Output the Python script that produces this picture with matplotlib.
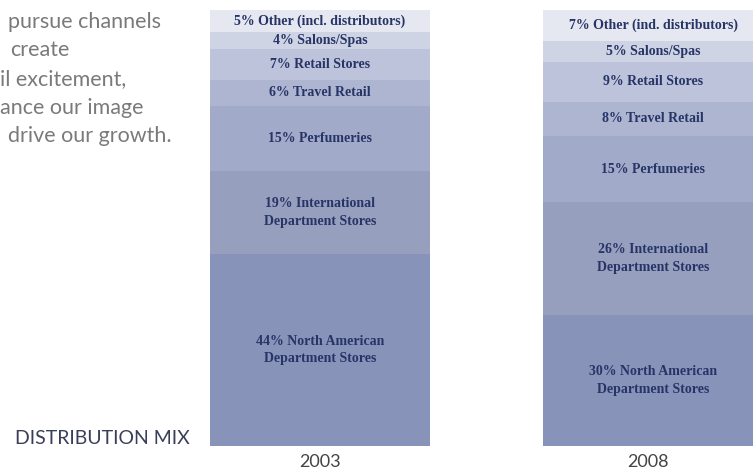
import matplotlib.pyplot as plt

# Distribution mix, stacked from the bottom up
years = ['2003', '2008']
channels = ['North American\nDepartment Stores', 'International\nDepartment Stores',
            'Perfumeries', 'Travel Retail', 'Retail Stores', 'Salons/Spas',
            'Other (incl. distributors)']
share_2003 = [44, 19, 15, 6, 7, 4, 5]
share_2008 = [30, 26, 15, 8, 9, 5, 7]
colors = ['#8893b9', '#979fbf', '#a2aaca', '#adb5d1', '#bcc3db', '#cfd4e4', '#e5e8f0']

intro_lines = ['pursue channels', 'create', 'il excitement,', 'ance our image', 'drive our growth.']
intro_x = [8, 10, 0, 0, 8]

fig = plt.figure(figsize=(7.53, 4.76), dpi=100)
ax = fig.add_axes([210 / 753, 30 / 476, 543 / 753, 436 / 476])

width = 0.66
for i, shares in enumerate([share_2003, share_2008]):
    bottom = 0
    for j, val in enumerate(shares):
        ax.bar(i, val, width=width, bottom=bottom, color=colors[j], edgecolor='none')
        name = channels[j]
        if i == 1 and j == 6:
            name = 'Other (ind. distributors)'
        ax.text(i, bottom + val / 2, f'{val}% {name}', ha='center', va='center',
                fontsize=10, fontweight='bold', color='#273466',
                family='Liberation Serif', linespacing=1.45)
        bottom += val

ax.set_xlim(-0.33, 1.30)
ax.set_ylim(0, 100)
ax.set_xticks([0, 0.985])
ax.set_xticklabels(years, fontsize=13, color='#444444', family='Lato')
ax.tick_params(axis='x', length=0, pad=6)
ax.set_yticks([])
for s in ax.spines.values():
    s.set_visible(False)

for k, line in enumerate(intro_lines):
    fig.text(intro_x[k] / 753, 1 - (22 + 28.5 * k) / 476, line, ha='left', va='center',
             fontsize=15.5, color='#7a7a7a', family='Lato')

fig.text(15 / 753, 1 - 438 / 476, 'DISTRIBUTION MIX', ha='left', va='center',
         fontsize=14, color='#3a3f58', family='Lato')

fig.savefig('out.png', dpi=100)
